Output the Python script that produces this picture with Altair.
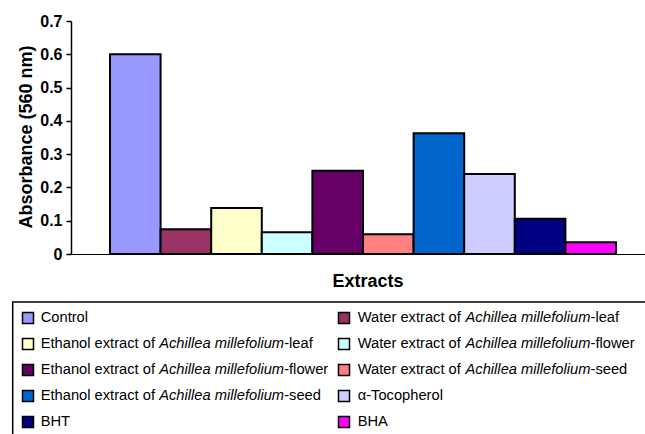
import altair as alt
import pandas as pd

# ---- data -----------------------------------------------------------------
series_names = [
    "Control",
    "Water extract of Achillea millefolium-leaf",
    "Ethanol extract of Achillea millefolium-leaf",
    "Water extract of Achillea millefolium-flower",
    "Ethanol extract of Achillea millefolium-flower",
    "Water extract of Achillea millefolium-seed",
    "Ethanol extract of Achillea millefolium-seed",
    "α-Tocopherol",
    "BHT",
    "BHA",
]
absorbance = [0.60, 0.074, 0.138, 0.065, 0.25, 0.059, 0.363, 0.24, 0.106, 0.035]
bar_colors = ["#9999FF", "#993366", "#FFFFCC", "#CCFFFF", "#660066",
              "#FF8080", "#0066CC", "#CCCCFF", "#000080", "#FF00FF"]
y_ticks = [0, 0.1, 0.2, 0.3, 0.4, 0.5, 0.6, 0.7]
italic_part = "Achillea millefolium"

FONT = "Liberation Sans, Arial, Helvetica, sans-serif"
LEGEND_FS = 14.7

# advance widths (1/1000 em) of the glyphs used in the legend labels
GLYPH_W = {"E": 667, "t": 278, "h": 556, "a": 556, "n": 556, "o": 556,
           "l": 222, " ": 278, "e": 556, "x": 500, "r": 333, "c": 500,
           "f": 278, "W": 944, "A": 667, "i": 222, "m": 833, "u": 556}


def text_width(s, size):
    return sum(GLYPH_W.get(ch, 556) for ch in s) * size / 1000.0


bars = pd.DataFrame({"name": series_names, "value": absorbance})

# legend: two columns, filled row by row; labels split into plain/italic runs
col_text_x = [-30.3, 286.7]
col_square_x = [-43.0, 273.0]
row_y0, row_step = 297.0, 26.0

squares, pieces = [], []
for i, name in enumerate(series_names):
    r, c = divmod(i, 2)
    y = row_y0 + r * row_step
    squares.append({"name": name, "lx": col_square_x[c], "ly": y})
    if italic_part in name:
        pre, post = name.split(italic_part)
        runs = [(pre, False), (italic_part, True), (post, False)]
    else:
        runs = [(name, False)]
    off = 0.0
    for txt, ital in runs:
        pieces.append({"txt": txt, "italic": ital,
                       "lx": col_text_x[c] + off, "ly": y})
        off += text_width(txt, LEGEND_FS)

squares = pd.DataFrame(squares)
pieces = pd.DataFrame(pieces)

color_scale = alt.Scale(domain=series_names, range=bar_colors)

# ---- bar chart ------------------------------------------------------------
bar_layer = alt.Chart(bars).mark_bar(stroke="black", strokeWidth=2).encode(
    x=alt.X("name:N", sort=series_names,
            scale=alt.Scale(paddingInner=0, paddingOuter=0.672, align=0.5735),
            axis=alt.Axis(title="Extracts", labels=False, ticks=False,
                          domainColor="black", domainWidth=1,
                          titleFont=FONT, titleFontSize=18,
                          titleFontWeight="bold", titleColor="black",
                          titleX=296.5, titleY=32,
                          titleBaseline="alphabetic")),
    y=alt.Y("value:Q", scale=alt.Scale(domain=[0, 0.7], nice=False),
            axis=alt.Axis(title="Absorbance (560 nm)", values=y_ticks,
                          format=".1~f", grid=False,
                          tickSize=5, tickColor="black", tickWidth=1.5,
                          domainColor="black", domainWidth=1.5,
                          labelFont=FONT, labelFontSize=16,
                          labelFontWeight="bold", labelColor="black",
                          labelPadding=4,
                          titleFont=FONT, titleFontSize=18,
                          titleFontWeight="bold", titleColor="black",
                          titleX=-40, titleY=115.5,
                          titleBaseline="alphabetic")),
    color=alt.Color("name:N", scale=color_scale, legend=None),
)

# ---- legend drawn below the plot ----------------------------------------
frame = alt.Chart(pd.DataFrame({"k": [0]})).mark_rect(
    fillOpacity=0, stroke="black", strokeWidth=1.5
).encode(
    x=alt.value(-58.3), x2=alt.value(800),
    y=alt.value(281), y2=alt.value(500),
)

legend_squares = alt.Chart(squares).mark_square(
    size=121, filled=True, stroke="black", strokeWidth=1.5, opacity=1
).encode(
    x=alt.X("lx:Q", scale=None, axis=None),
    y=alt.Y("ly:Q", scale=None, axis=None),
    color=alt.Color("name:N", scale=color_scale, legend=None),
)

legend_plain = alt.Chart(pieces).transform_filter(
    "!datum.italic"
).mark_text(
    align="left", baseline="middle", font=FONT, fontSize=LEGEND_FS,
    color="black"
).encode(
    x=alt.X("lx:Q", scale=None, axis=None),
    y=alt.Y("ly:Q", scale=None, axis=None),
    text="txt:N",
)

legend_italic = alt.Chart(pieces).transform_filter(
    "datum.italic"
).mark_text(
    align="left", baseline="middle", font=FONT, fontSize=LEGEND_FS,
    fontStyle="italic", color="black"
).encode(
    x=alt.X("lx:Q", scale=None, axis=None),
    y=alt.Y("ly:Q", scale=None, axis=None),
    text="txt:N",
)

chart = alt.layer(
    bar_layer, frame, legend_squares, legend_plain, legend_italic
).resolve_scale(
    x="independent", y="independent"
).properties(
    width=574, height=233,
    autosize=alt.AutoSizeParams(type="none"),
    padding={"left": 71, "top": 21, "right": 0, "bottom": 180},
    background="white",
).configure_view(stroke=None)

chart.save("out.html", embed_options={"renderer": "svg", "actions": False})
